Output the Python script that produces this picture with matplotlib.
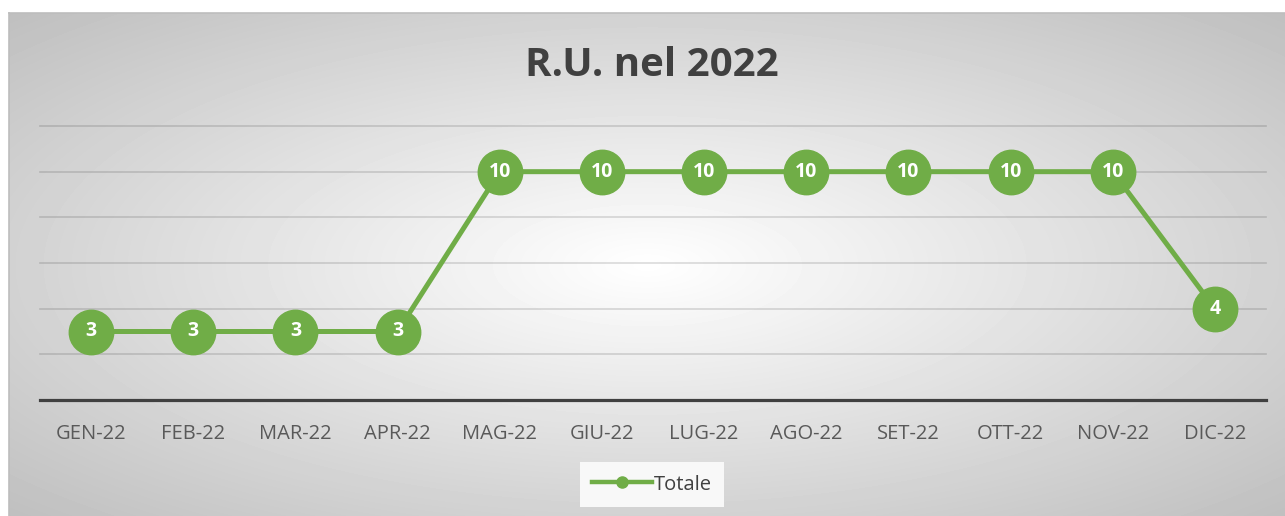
import numpy as np
import matplotlib.pyplot as plt
from matplotlib.lines import Line2D

months = ['GEN-22', 'FEB-22', 'MAR-22', 'APR-22', 'MAG-22', 'GIU-22',
          'LUG-22', 'AGO-22', 'SET-22', 'OTT-22', 'NOV-22', 'DIC-22']
totale = [3, 3, 3, 3, 10, 10, 10, 10, 10, 10, 10, 4]
title = 'R.U. nel 2022'
series_name = 'Totale'

green = '#70AD47'
W, H = 1285, 516

plt.rcParams['font.family'] = ['Open Sans', 'DejaVu Sans']

fig = plt.figure(figsize=(W / 100, H / 100), dpi=100)

# chart area with radial gradient
bx0, by0 = 9, 13
bg = fig.add_axes([bx0 / W, 0, 1 - bx0 / W, 1 - by0 / H])
gw, gh = W - bx0, H - by0
yy, xx = np.mgrid[0:gh, 0:gw]
r = np.sqrt(((xx - gw / 2) / (gw / 2)) ** 2 + ((yy - (265 - by0)) / (gh / 2)) ** 2) / np.sqrt(2)
v = (255 - 64 * np.clip(r, 0, 1)) / 255
bg.imshow(v, cmap='gray', vmin=0, vmax=1, aspect='auto', interpolation='bilinear')
bg.set_xticks([])
bg.set_yticks([])
for s in bg.spines.values():
    s.set_color('#bdbdbd')
    s.set_linewidth(1.2)
bg.spines['right'].set_visible(False)
bg.spines['bottom'].set_visible(False)

ax = fig.add_axes([40 / W, 1 - 400 / H, 1226 / W, 274 / H])
ax.set_facecolor('none')
x = np.arange(len(months))
ax.plot(x, totale, color=green, lw=3.6, marker='o', markersize=32, zorder=3,
        clip_on=False, solid_capstyle='round')
for xi, val in zip(x, totale):
    ax.text(xi, val, str(val), ha='center', va='center', color='white',
            fontsize=14, fontweight='bold', zorder=4)

ax.set_xlim(-0.5, len(months) - 0.5)
ax.set_ylim(0, 12)
for gy in range(2, 13, 2):
    ax.axhline(gy, color='black', alpha=0.14, lw=1.2, zorder=1, clip_on=False)
ax.set_yticks([])
ax.set_xticks(x)
ax.set_xticklabels(months, fontsize=14.5, color='#595959')
ax.tick_params(axis='x', length=0, pad=17)
for s in ['left', 'right', 'top']:
    ax.spines[s].set_visible(False)
ax.spines['bottom'].set_color('#404040')
ax.spines['bottom'].set_linewidth(2.3)

fig.text(652 / W, 1 - 66 / H, title, ha='center', va='center', fontsize=29,
         fontweight='bold', color='#404040')

handle = Line2D([], [], color=green, lw=3.2, marker='o', markersize=8)
leg = fig.legend([handle], [series_name], loc='center',
                 bbox_to_anchor=(652 / W, 1 - 484.5 / H), fontsize=14.5,
                 frameon=True, fancybox=False, handlelength=3.0,
                 handletextpad=0.1, borderpad=0.6, borderaxespad=0)
leg.get_frame().set_facecolor('#f8f8f8')
leg.get_frame().set_edgecolor('none')
leg.get_frame().set_alpha(1)
for t in leg.get_texts():
    t.set_color('#404040')

fig.savefig('out.png', dpi=100)
